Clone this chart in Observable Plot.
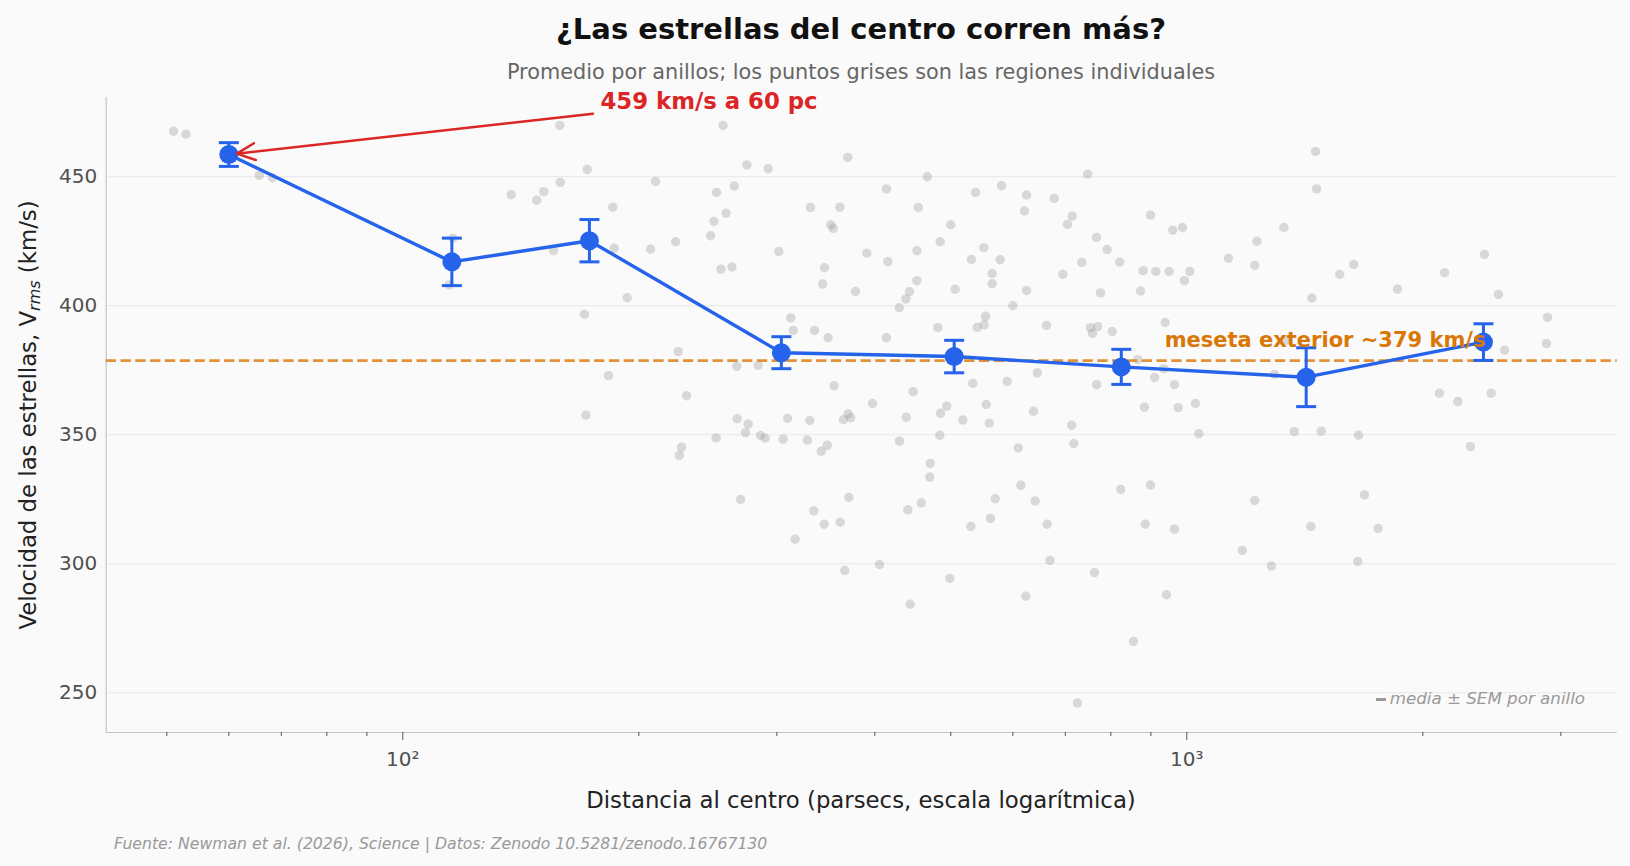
<!DOCTYPE html>
<html>
<head>
<meta charset="utf-8">
<script src="https://cdn.jsdelivr.net/npm/d3@7"></script>
<script src="https://cdn.jsdelivr.net/npm/@observablehq/plot@0.6"></script>
<style>
  html, body { margin: 0; padding: 0; background: #fafafa; }
  #wrap { position: relative; width: 1630px; height: 866px; background: #fafafa; font-family: "DejaVu Sans", sans-serif; overflow: hidden; }
  #chart { position: absolute; left: 0; top: 0; }
  .t { position: absolute; white-space: nowrap; transform: translate(-50%, -50%); }
  #title { left: 861px; top: 29px; font-size: 29px; font-weight: bold; color: #111; }
  #subtitle { left: 861px; top: 72px; font-size: 20.8px; color: #666; }
  #xlabel { left: 861px; top: 800px; font-size: 22.8px; color: #222; }
  #ylabel { left: 28px; top: 414.5px; font-size: 22.8px; color: #222; transform: translate(-50%, -50%) rotate(-90deg); }
  #ylabel sub { font-size: 16px; font-style: italic; vertical-align: -0.25em; line-height: 0; }
  #caption { left: 114px; top: 843px; font-size: 15.7px; color: #999; font-style: italic; transform: translate(0, -50%); }
  #legend { right: 45px; top: 697.5px; font-size: 16.7px; color: #999; font-style: italic; transform: translate(0, -50%); }
  #legend .mk { display: inline-block; width: 10px; height: 3px; background: #999; vertical-align: middle; margin-right: 4px; }
</style>
</head>
<body>
<div id="wrap">
  <div id="chart"></div>
  <div class="t" id="title">¿Las estrellas del centro corren más?</div>
  <div class="t" id="subtitle">Promedio por anillos; los puntos grises son las regiones individuales</div>
  <div class="t" id="xlabel">Distancia al centro (parsecs, escala logarítmica)</div>
  <div class="t" id="ylabel">Velocidad de las estrellas, V<sub>rms</sub> (km/s)</div>
  <div class="t" id="caption">Fuente: Newman et al. (2026), Science | Datos: Zenodo 10.5281/zenodo.16767130</div>
  <div class="t" id="legend"><span class="mk"></span>media ± SEM por anillo</div>
</div>
<script>
// ---- Data ----
// Individual regions: distance (pc) and V_rms (km/s)
const regionDist = [
  51, 52.9, 65.6, 68.2, 115.9, 114.6,
  158.6, 256.1, 369.5, 274.7, 292.5, 171.9, 210.1, 158.8, 137.5, 151.3, 148.2, 251.3, 264.7, 414.0,
  185.3, 331.1, 360.9, 258.5, 249.3, 351.5, 354.0, 246.9, 155.7, 186.1, 207.0, 222.9, 301.7, 390.8,
  415.6, 254.5, 262.9, 345.1, 343.1, 378.0, 193.3, 170.5, 312.5, 314.8, 335.1, 348.8, 414.0, 224.5,
  266.7, 284.0, 183.0, 354.9, 230.1, 397.2, 171.2,
  267.0, 275.8, 309.6, 330.4, 369.9, 364.8, 372.8, 251.0, 273.6, 285.9, 289.9, 305.6, 328.1, 341.8,
  347.9, 226.8, 225.3, 269.6, 370.6, 334.4, 344.8, 361.4, 316.6, 366.3, 405.5,
  466.7, 454.5, 537.7, 580.3, 624.6, 620.9, 677.5, 747.5, 714.1, 704.3, 500.0, 484.7, 452.6, 551.0,
  531.4, 578.1, 766.9, 791.4, 898.9, 959.6, 987.4, 1229, 1130, 1221, 1330, 734.5, 821.3, 564.6,
  564.6, 694.8, 879.6, 912.9, 949.5, 1009, 993.3, 452.6, 506.5, 624.6, 776.1, 872.9, 442.9, 438.2,
  429.8, 600.0, 553.8, 551.6, 540.4, 481.3, 662.2, 753.4, 769.7, 758.0, 803.2, 938.5, 866.0, 934.8,
  909.7, 964.5, 767.4, 644.8, 590.1, 533.4, 447.7, 1294, 494.1, 485.1, 554.9, 637.4, 883.0, 975.0,
  1026, 438.7, 518.1, 559.7,
  713.3, 430.0, 484.1, 609.6, 717.6, 1036, 470.7, 470.1, 440.8, 458.5, 530.3, 561.9, 569.7, 614.2,
  640.7, 663.7, 668.9, 762.6, 823.6, 898.9, 885.1, 964.5, 1177, 1221, 1282, 498.5, 443.8, 623.3,
  941.9, 855.0, 725.3,
  1460, 1464, 1633, 1567, 2132, 2397, 1444, 1857, 2498, 2885, 2876, 2544, 1336, 2100, 2217, 2445,
  1371, 1484, 1656, 2300, 1685, 1440, 1754, 1652
];
const regionVel = [
  467.6, 466.5, 450.5, 449.6, 426.2, 408.1,
  469.9, 469.9, 457.5, 454.6, 453.1, 452.8, 448.2, 447.8, 443.0, 444.2, 440.9, 443.9, 446.4, 445.3,
  438.2, 438.1, 438.2, 435.9, 432.7, 431.4, 430.0, 427.1, 421.3, 422.3, 421.9, 424.8, 421.0, 420.4,
  417.1, 414.2, 415.0, 414.7, 408.4, 405.5, 403.1, 396.7, 395.3, 390.4, 390.4, 387.6, 387.6, 382.2,
  376.5, 376.9, 372.9, 369.0, 365.1, 362.1, 357.6,
  356.2, 354.1, 356.3, 355.5, 358.1, 355.8, 356.6, 348.8, 350.8, 349.7, 348.7, 348.3, 347.9, 343.6,
  345.9, 345.2, 342.0, 324.9, 325.7, 320.5, 315.3, 316.1, 309.5, 297.4, 299.7,
  450.0, 438.1, 443.9, 446.5, 442.9, 436.7, 441.6, 451.0, 434.7, 431.5, 431.4, 424.8, 421.3, 422.5,
  417.9, 417.8, 426.5, 421.8, 435.1, 429.3, 430.3, 425.0, 418.4, 415.7, 430.3, 416.8, 416.9, 412.5,
  408.5, 412.2, 413.6, 413.3, 413.3, 413.3, 409.7, 409.7, 406.4, 405.9, 405.0, 405.7, 405.4, 402.6,
  399.2, 400.0, 395.9, 392.6, 391.6, 391.5, 392.4, 391.5, 391.9, 389.3, 390.0, 393.5, 379.1, 375.6,
  372.2, 369.4, 369.4, 374.0, 370.7, 369.9, 366.7, 373.4, 361.1, 358.3, 361.7, 359.1, 360.7, 360.5,
  362.1, 356.8, 355.7, 354.5,
  353.7, 347.5, 349.8, 344.9, 346.6, 350.4, 338.9, 333.6, 320.9, 323.6, 314.5, 317.6, 325.2, 330.4,
  324.3, 315.3, 301.3, 296.5, 328.8, 330.5, 315.3, 313.4, 305.2, 324.5, 299.1, 294.3, 284.3, 287.4,
  288.0, 269.9, 246.1,
  459.8, 445.3, 416.0, 412.1, 412.8, 419.9, 403.0, 406.4, 404.4, 395.5, 385.3, 382.8, 386.6, 366.1, 362.9, 366.1,
  351.2, 351.4, 349.8, 345.4, 326.7, 314.5, 313.7, 300.9
];

// Ring averages: distance (pc), mean V_rms, SEM (km/s)
const ringDist = [60, 115.5, 173, 304, 505, 825, 1420, 2390];
const ringVel  = [458.6, 417.0, 425.2, 381.8, 380.3, 376.3, 372.3, 385.9];
const ringSem  = [4.6, 9.2, 8.2, 6.2, 6.3, 6.8, 11.4, 7.1];

// Outer plateau
const plateauVel = [378.7];

// Axis ticks
const xMajorTicks = [100, 1000];
const xMajorLabels = {100: "10²", 1000: "10³"};
const xMinorTicks = [50, 60, 70, 80, 90, 200, 300, 400, 500, 600, 700, 800, 900, 2000, 3000];
const yTicks = [250, 300, 350, 400, 450];

// Annotations (data units)
const peakNote = [{x: 178.7, y: 479.2, label: "459 km/s a 60 pc"}];
const peakArrow = [{x1: 174.8, y1: 474.4, x2: 60, y2: 458.6}];
const plateauNote = [{x: 937, y: 386.5, label: "meseta exterior ~379 km/s"}];

// Domains
const xDomain = [41.85, 3540];
const yDomain = [234.6, 480.7];

// ---- Build tables ----
const regions = regionDist.map((d, i) => ({d, v: regionVel[i]}));
const rings = ringDist.map((d, i) => ({d, v: ringVel[i], sem: ringSem[i]}));

const blue = "#2563eb";
const red = "#dc2626";
const orange = "#d97706";

const capSymbol = {
  draw(ctx, size) {
    const r = Math.sqrt(size / Math.PI);
    ctx.moveTo(-r, 0);
    ctx.lineTo(r, 0);
  }
};

const chart = Plot.plot({
  width: 1630,
  height: 866,
  marginLeft: 105.7,
  marginRight: 13.3,
  marginTop: 97,
  marginBottom: 134,
  style: {background: "transparent", fontFamily: "DejaVu Sans, sans-serif", overflow: "visible"},
  x: {type: "log", domain: xDomain},
  y: {domain: yDomain},
  marks: [
    Plot.gridY({ticks: yTicks, stroke: "#e8e8e8", strokeOpacity: 1, strokeWidth: 1}),
    Plot.ruleX([xDomain[0]], {stroke: "#c4c4c4", strokeWidth: 1.2}),
    Plot.ruleY([yDomain[0]], {stroke: "#c4c4c4", strokeWidth: 1.2}),
    Plot.axisY({ticks: yTicks, tickSize: 0, tickPadding: 9, fontSize: 20, color: "#505050", label: null}),
    Plot.axisX({ticks: xMinorTicks, tickSize: 4, tickFormat: () => "", stroke: "#555", label: null}),
    Plot.axisX({ticks: xMajorTicks, tickSize: 8, tickPadding: 11, tickFormat: d => xMajorLabels[Math.round(d)], fontSize: 20, color: "#505050", stroke: "#555", label: null}),
    Plot.dot(regions, {x: "d", y: "v", r: 4.7, fill: "#999", fillOpacity: 0.35, stroke: "none"}),
    Plot.ruleY(plateauVel, {stroke: "#e0913a", strokeWidth: 2.8, strokeDasharray: "10.3,4.5"}),
    Plot.ruleX(rings, {x: "d", y1: d => d.v - d.sem, y2: d => d.v + d.sem, stroke: blue, strokeWidth: 3}),
    Plot.dot(rings, {x: "d", y: d => d.v + d.sem, symbol: capSymbol, r: 10, stroke: blue, strokeWidth: 3, fill: "none"}),
    Plot.dot(rings, {x: "d", y: d => d.v - d.sem, symbol: capSymbol, r: 10, stroke: blue, strokeWidth: 3, fill: "none"}),
    Plot.line(rings, {x: "d", y: "v", stroke: blue, strokeWidth: 3.4}),
    Plot.dot(rings, {x: "d", y: "v", r: 9.5, fill: blue, stroke: "none"}),
    Plot.arrow(peakArrow, {x1: "x1", y1: "y1", x2: "x2", y2: "y2", stroke: red, strokeWidth: 2.5, headLength: 12, headAngle: 50, insetEnd: 8, bend: 0}),
    Plot.text(peakNote, {x: "x", y: "y", text: "label", fill: red, fontSize: 22.8, fontWeight: "bold", textAnchor: "start"}),
    Plot.text(plateauNote, {x: "x", y: "y", text: "label", fill: orange, fontSize: 21, fontWeight: "bold", textAnchor: "start"})
  ]
});
document.getElementById("chart").appendChild(chart);
</script>
</body>
</html>
